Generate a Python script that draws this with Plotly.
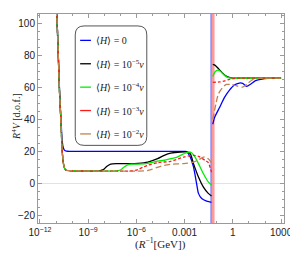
import plotly.graph_objects as go

# ---------------- data (x given as log10 of R^-1 [GeV]) ----------------
steep_e = [-11.0, -10.95, -10.88, -10.78, -10.68, -10.62, -10.54, -10.45, -10.37, -10.0]
steep_v = [115, 106, 87, 57, 36, 21, 12.5, 9, 8.1, 7.8]

blue_left_e = [-11.0, -10.95, -10.88, -10.78, -10.68, -10.62, -10.55, -10.48, -10.35, -10.0,
               -6.0, -3.2, -2.95, -2.85, -2.65, -2.45, -2.24, -2.14, -1.94, -1.63, -1.43, -1.33]
blue_left_v = [115, 106, 87, 58, 38, 27, 22.5, 20.8, 20.1, 20,
               20, 20, 20, 19.6, 16.4, 10.2, -1.2, -6.4, -9.6, -11.2, -11.7, -12]
blue_right_e = [-1.25, -1.13, -0.82, -0.52, -0.21, 0.09, 0.4, 0.61, 0.85, 1.12, 1.41, 1.82, 2.23, 3.0]
blue_right_v = [37, 41.4, 47.7, 53.9, 58.5, 61.7, 62.9, 62.7, 60.8, 62.3, 64.4, 65.4, 65.8, 66]

black_left_e = steep_e + [-8.3, -8.05, -7.85, -7.6, -7.2, -6.5, -5.9, -5.29, -4.68, -4.27, -3.87,
                          -3.26, -2.85, -2.65, -2.45, -2.14, -1.84, -1.53, -1.33]
black_left_v = steep_v + [7.8, 8.5, 10.5, 12, 12.3, 12.3, 12.5, 13.3, 15.4, 17.5, 18.9,
                          19.6, 19.6, 18.5, 12.3, 3.9, -2.3, -6.4, -8]
black_right_e = [-1.25, -1.1, -0.95, -0.75, -0.55, -0.35, -0.1, 0.3, 3.0]
black_right_v = [74.6, 74, 72.5, 70.3, 68.3, 67, 66.2, 66, 66]

green_left_e = steep_e + [-7.2, -7.0, -6.8, -6.55, -6.3, -5.9, -5.29, -4.68, -4.27, -3.87, -3.46,
                          -3.05, -2.75, -2.55, -2.35, -2.14, -1.84, -1.53, -1.33]
green_left_v = steep_v + [7.8, 8.3, 9.8, 11.5, 12, 12, 12.5, 13.9, 14.4, 15.4, 16.4,
                          18.5, 19.6, 19, 16.4, 12.3, 6.1, 0.8, -1.2]
green_right_e = [-1.25, -1.1, -0.95, -0.8, -0.6, -0.4, -0.2, 0.2, 3.0]
green_right_v = [67, 70, 71, 70.5, 68.5, 66.8, 66.1, 65.9, 66]

red_left_e = steep_e + [-6.2, -5.9, -5.6, -5.29, -4.68, -3.87, -3.05, -2.45, -2.14, -1.74, -1.53,
                        -1.4, -1.3]
red_left_v = steep_v + [7.8, 8.6, 10, 11.25, 12.9, 13.75, 16.4, 17.5, 16.9, 14.4, 13,
                        9.5, 5.5]
red_right_e = [-1.25, -0.82, -0.5, -0.2, 0.1, 0.5, 3.0]
red_right_v = [63.3, 63.6, 64.3, 65.2, 65.8, 66, 66]

brown_left_e = steep_e + [-5.4, -5.09, -4.7, -4.27, -3.87, -3.05, -2.45, -2.1, -1.84, -1.6,
                          -1.45, -1.3]
brown_left_v = steep_v + [7.8, 8.5, 10, 11.25, 11.9, 12.3, 13.3, 14.8, 16.4, 15.8,
                          14.5, 12.3]
brown_right_e = [-1.25, -1.05, -0.9, -0.6, -0.4, -0.1, 0.2, 0.6, 0.9, 1.2, 1.6, 2.0, 3.0]
brown_right_v = [40, 50, 56, 60.5, 62, 62, 61.2, 60.3, 62.5, 64.8, 65.8, 66, 66]

vline_blue_e = -1.35
vline_red_e = -1.22

legend_labels = ["⟨<i>H</i>⟩ = 0",
                 "⟨<i>H</i>⟩ = 10<sup>−5</sup><i>v</i>",
                 "⟨<i>H</i>⟩ = 10<sup>−4</sup><i>v</i>",
                 "⟨<i>H</i>⟩ = 10<sup>−3</sup><i>v</i>",
                 "⟨<i>H</i>⟩ = 10<sup>−2</sup><i>v</i>"]
x_tick_exp = [-12, -9, -6, -3, 0, 3]
x_tick_text = ["10<sup>−12</sup>", "10<sup>−9</sup>", "10<sup>−6</sup>", "0.001", "1", "1000"]
y_ticks = [-20, 0, 20, 40, 60, 80, 100]
x_title = "(<i>R</i><sup>−1</sup>[GeV])"
y_title = "<i>R</i><sup>4</sup><i>V</i> [d.o.f.]"

# ---------------- styles ----------------
styles = [
    dict(color="#0000ff", dash="solid"),
    dict(color="#000000", dash="solid"),
    dict(color="#00ee00", dash="solid"),
    dict(color="#ff1a1a", dash="3px,2px"),
    dict(color="#c0834f", dash="6px,3px"),
]
series = [
    (blue_left_e, blue_left_v, blue_right_e, blue_right_v),
    (black_left_e, black_left_v, black_right_e, black_right_v),
    (green_left_e, green_left_v, green_right_e, green_right_v),
    (red_left_e, red_left_v, red_right_e, red_right_v),
    (brown_left_e, brown_left_v, brown_right_e, brown_right_v),
]

fig = go.Figure()

# vertical marker lines
for e, col, w in [(vline_blue_e, "rgba(110,110,255,0.75)", 1.8), (vline_red_e, "rgba(255,120,120,0.75)", 2.6)]:
    fig.add_trace(go.Scatter(x=[10 ** e, 10 ** e], y=[-40, 120], mode="lines",
                             line=dict(color=col, width=w), showlegend=False, hoverinfo="skip"))

for (le, lv, re_, rv), st, name in zip(series, styles, legend_labels):
    for ee, vv in [(le, lv), (re_, rv)]:
        fig.add_trace(go.Scatter(
            x=[10 ** e for e in ee], y=vv, mode="lines",
            line=dict(color=st["color"], dash=st["dash"], width=1.3, shape="spline", smoothing=0.7),
            showlegend=False, name=name))

# ---------------- layout ----------------
# page body has an 8px margin: compensate so the frame lands at window px 38..289 x 13..223
OFF = 8
WIN_W, WIN_H = 298, 256
FL, FR, FT, FB = 38, 289, 13, 223          # frame in window pixels
W, H = WIN_W - OFF, WIN_H - OFF
L, T = FL - OFF, FT - OFF
R, B = W - (FR - OFF), H - (FB - OFF)
pw, ph = FR - FL, FB - FT

def px2paper_x(px):
    return (px - FL) / pw

def px2paper_y(py):
    return (FB - py) / ph

frame = "#9a9a9a"
tickfont = dict(family="Liberation Sans, Arial, sans-serif", size=10, color="#222")
serif = dict(family="Liberation Serif, serif", size=11, color="#222")

fig.update_layout(
    width=W, height=H,
    margin=dict(l=L, r=R, t=T, b=B, pad=0),
    paper_bgcolor="white", plot_bgcolor="white",
    showlegend=False,
    xaxis=dict(
        type="log", range=[-12.12, 3.18],
        tickvals=[10 ** e for e in x_tick_exp], ticktext=x_tick_text,
        ticks="inside", ticklen=4, tickcolor=frame, tickwidth=1,
        minor=dict(tickvals=[10 ** e for e in range(-12, 4)], ticks="inside", ticklen=2,
                   tickcolor=frame, showgrid=False),
        showgrid=False, zeroline=False,
        showline=True, linecolor=frame, linewidth=1, mirror="allticks",
        tickfont=tickfont,
    ),
    yaxis=dict(
        range=[-25, 106.25],
        tickvals=y_ticks,
        ticks="inside", ticklen=4, tickcolor=frame, tickwidth=1,
        minor=dict(dtick=5, ticks="inside", ticklen=2, tickcolor=frame, showgrid=False),
        showgrid=False,
        zeroline=True, zerolinecolor="#e2e2e2", zerolinewidth=1,
        showline=True, linecolor=frame, linewidth=1, mirror="allticks",
        tickfont=tickfont,
    ),
)

# axis titles as positioned annotations
fig.add_annotation(x=px2paper_x(163), y=px2paper_y(244), xref="paper", yref="paper",
                   text=x_title, showarrow=False, xanchor="center", yanchor="middle", font=serif)
fig.add_annotation(x=px2paper_x(15), y=px2paper_y(116), xref="paper", yref="paper",
                   text=y_title, showarrow=False, xanchor="center", yanchor="middle",
                   textangle=-90, font=dict(family="Liberation Serif, serif", size=10, color="#222"))

# ---------------- custom legend (rounded box) ----------------
bx0, bx1 = px2paper_x(76), px2paper_x(149)
by1, by0 = px2paper_y(25), px2paper_y(145)
rx, ry = 9 / pw, 9 / ph
path = (f"M {bx0+rx},{by1} L {bx1-rx},{by1} Q {bx1},{by1} {bx1},{by1-ry} "
        f"L {bx1},{by0+ry} Q {bx1},{by0} {bx1-rx},{by0} "
        f"L {bx0+rx},{by0} Q {bx0},{by0} {bx0},{by0+ry} "
        f"L {bx0},{by1-ry} Q {bx0},{by1} {bx0+rx},{by1} Z")
fig.add_shape(type="path", path=path, xref="paper", yref="paper",
              line=dict(color="#555", width=1), fillcolor="white", layer="above")

row_px = [39.5, 63, 86.5, 110, 133.5]
for py, st, lab in zip(row_px, styles, legend_labels):
    yy = px2paper_y(py)
    fig.add_shape(type="line", xref="paper", yref="paper",
                  x0=px2paper_x(81), x1=px2paper_x(92), y0=yy, y1=yy,
                  line=dict(color=st["color"], width=1.3), layer="above")
    fig.add_annotation(x=px2paper_x(95), y=yy, xref="paper", yref="paper",
                       text=lab, showarrow=False, xanchor="left", yanchor="middle",
                       font=dict(family="Liberation Serif, serif", size=10, color="#222"))

fig.write_html("out.html")
